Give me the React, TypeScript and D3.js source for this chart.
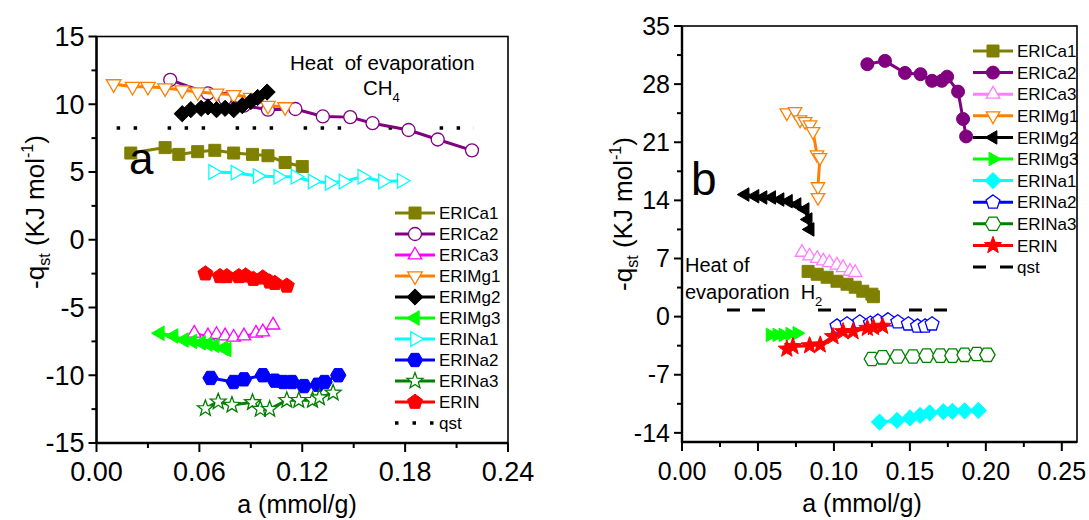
import React from "react";
import * as d3 from "d3";

// ---------------- Data: panel a (CH4) ----------------
const seriesNames = ["ERICa1", "ERICa2", "ERICa3", "ERIMg1", "ERIMg2", "ERIMg3", "ERINa1", "ERINa2", "ERINa3", "ERIN"];

const aCa1_A = [0.020, 0.040, 0.048, 0.059, 0.069, 0.080, 0.091, 0.100, 0.110, 0.120];
const qCa1_A = [6.4, 6.8, 6.3, 6.5, 6.6, 6.4, 6.3, 6.2, 5.7, 5.4];
const aCa2_A = [0.043, 0.065, 0.075, 0.086, 0.100, 0.116, 0.132, 0.148, 0.161, 0.182, 0.199, 0.219];
const qCa2_A = [11.8, 10.8, 10.4, 9.9, 9.6, 9.65, 9.1, 9.05, 8.6, 8.1, 7.4, 6.6];
const aCa3_A = [0.057, 0.065, 0.070, 0.075, 0.080, 0.086, 0.093, 0.097, 0.103];
const qCa3_A = [-6.9, -7.1, -7.0, -7.1, -7.2, -7.1, -6.9, -6.8, -6.3];
const aMg1_A = [0.010, 0.021, 0.030, 0.040, 0.050, 0.059, 0.070, 0.080, 0.090, 0.100, 0.110];
const qMg1_A = [11.5, 11.3, 11.3, 11.2, 11.05, 10.9, 10.8, 10.7, 10.5, 9.9, 9.8];
const aMg2_A = [0.050, 0.055, 0.061, 0.065, 0.070, 0.075, 0.080, 0.085, 0.090, 0.094, 0.0995];
const qMg2_A = [9.3, 9.6, 9.7, 9.8, 9.6, 9.7, 9.6, 9.9, 10.2, 10.5, 10.9];
const aMg3_A = [0.037, 0.045, 0.051, 0.056, 0.061, 0.065, 0.069, 0.074, 0.076];
const qMg3_A = [-6.9, -7.1, -7.4, -7.5, -7.6, -7.7, -7.8, -8.0, -8.1];
const aNa1_A = [0.068, 0.081, 0.094, 0.106, 0.116, 0.126, 0.136, 0.144, 0.155, 0.167, 0.178];
const qNa1_A = [5.0, 4.95, 4.7, 4.65, 4.65, 4.3, 4.2, 4.3, 4.65, 4.3, 4.35];
const aNa2_A = [0.0665, 0.080, 0.086, 0.097, 0.104, 0.109, 0.114, 0.121, 0.129, 0.133, 0.141];
const qNa2_A = [-10.2, -10.5, -10.3, -10.0, -10.4, -10.5, -10.5, -10.8, -10.7, -10.5, -10.0];
const aNa3_A = [0.0635, 0.071, 0.079, 0.091, 0.0955, 0.101, 0.111, 0.118, 0.126, 0.130, 0.138];
const qNa3_A = [-12.45, -11.95, -12.2, -12.0, -12.5, -12.5, -11.85, -11.85, -11.85, -11.65, -11.3];
const aN_A = [0.0635, 0.072, 0.076, 0.083, 0.087, 0.0915, 0.097, 0.101, 0.104, 0.111];
const qN_A = [-2.5, -2.7, -2.7, -2.7, -2.65, -2.9, -2.8, -3.1, -3.2, -3.4];
const qstA_value = 8.25;
const qstA_range = [0.0094, 0.22];

// ---------------- Data: panel b (H2) ----------------
const aCa1_B = [0.083, 0.089, 0.0955, 0.102, 0.1086, 0.114, 0.119, 0.125, 0.126];
const qCa1_B = [5.45, 5.1, 4.74, 4.26, 3.9, 3.54, 3.06, 2.7, 2.4];
const aCa2_B = [0.122, 0.1336, 0.1468, 0.157, 0.1646, 0.171, 0.1745, 0.1817, 0.185, 0.187];
const qCa2_B = [30.4, 30.8, 29.35, 29.2, 28.4, 28.4, 28.9, 27.1, 23.8, 21.7];
const aCa3_B = [0.079, 0.084, 0.089, 0.093, 0.097, 0.102, 0.106, 0.1106, 0.114];
const qCa3_B = [7.74, 7.3, 7.0, 6.7, 6.5, 6.2, 5.9, 5.45, 5.3];
const aMg1_B = [0.069, 0.0744, 0.0777, 0.081, 0.0843, 0.0862, 0.0889, 0.0908, 0.0895, 0.0895];
const qMg1_B = [24.55, 24.7, 23.7, 23.5, 23.1, 22.3, 19.5, 19.15, 15.65, 14.35];
const aMg2_B = [0.0415, 0.048, 0.0533, 0.059, 0.0645, 0.070, 0.0757, 0.081, 0.083, 0.0843];
const qMg2_B = [14.7, 14.5, 14.35, 14.35, 14.1, 13.9, 13.5, 12.9, 11.7, 10.5];
const aMg3_B = [0.058, 0.0625, 0.0665, 0.071, 0.0757];
const qMg3_B = [-2.2, -2.2, -2.2, -2.1, -2.0];
const aNa1_B = [0.130, 0.1415, 0.150, 0.1567, 0.163, 0.172, 0.178, 0.186, 0.195];
const qNa1_B = [-12.7, -12.5, -12.2, -11.9, -11.6, -11.45, -11.4, -11.35, -11.3];
const aNa2_B = [0.102, 0.1086, 0.117, 0.124, 0.129, 0.1356, 0.142, 0.149, 0.155, 0.160, 0.1646];
const qNa2_B = [-1.15, -0.9, -0.65, -0.8, -0.55, -0.4, -0.65, -0.9, -1.15, -1.15, -0.9];
const aNa3_B = [0.125, 0.132, 0.142, 0.152, 0.161, 0.170, 0.178, 0.186, 0.194, 0.201];
const qNa3_B = [-5.1, -4.9, -4.8, -4.8, -4.7, -4.7, -4.7, -4.6, -4.5, -4.6];
const aN_B = [0.069, 0.073, 0.084, 0.091, 0.0994, 0.106, 0.1126, 0.122, 0.126, 0.132];
const qN_B = [-3.9, -3.6, -3.5, -3.4, -2.4, -1.8, -1.8, -1.4, -1.3, -1.15];
const qstB_value = 0.8;
const qstB_range = [0.0296, 0.175];

// ticks
const xTicksA = [0, 0.06, 0.12, 0.18, 0.24];
const yTicksA = [-15, -10, -5, 0, 5, 10, 15];
const xTicksB = [0, 0.05, 0.1, 0.15, 0.2, 0.25];
const yTicksB = [-14, -7, 0, 7, 14, 21, 28, 35];

const FONT = "'Liberation Sans', Arial, Helvetica, sans-serif";

type Shape = "square" | "circle" | "triUp" | "triDown" | "triLeft" | "triRight" | "diamond" | "pentagon" | "hexagon" | "star";

function polygon(n: number, r: number, rotDeg: number): string {
  const pts: string[] = [];
  for (let k = 0; k < n; k++) {
    const ang = ((rotDeg + (k * 360) / n) * Math.PI) / 180;
    pts.push(`${(r * Math.cos(ang)).toFixed(2)},${(r * Math.sin(ang)).toFixed(2)}`);
  }
  return "M" + pts.join("L") + "Z";
}

function markerPath(shape: Shape, s: number): string {
  switch (shape) {
    case "square":
      return `M${-s / 2},${-s / 2}h${s}v${s}h${-s}Z`;
    case "circle": {
      const r = s / 2;
      return `M${-r},0a${r},${r} 0 1,0 ${2 * r},0a${r},${r} 0 1,0 ${-2 * r},0Z`;
    }
    case "triUp":
      return polygon(3, s * 0.6, -90);
    case "triDown":
      return polygon(3, s * 0.6, 90);
    case "triLeft":
      return polygon(3, s * 0.6, 180);
    case "triRight":
      return polygon(3, s * 0.6, 0);
    case "diamond":
      return polygon(4, s * 0.58, -90);
    case "pentagon":
      return polygon(5, s * 0.56, -90);
    case "hexagon":
      return polygon(6, s * 0.55, 0);
    case "star": {
      const pts: string[] = [];
      const R = s * 0.6;
      const r = R * 0.42;
      for (let k = 0; k < 10; k++) {
        const rr = k % 2 === 0 ? R : r;
        const ang = ((-90 + k * 36) * Math.PI) / 180;
        pts.push(`${(rr * Math.cos(ang)).toFixed(2)},${(rr * Math.sin(ang)).toFixed(2)}`);
      }
      return "M" + pts.join("L") + "Z";
    }
  }
  return "";
}

type Style = { color: string; shape: Shape; open: boolean; size: number; lw: number };

const stylesA: Style[] = [
  { color: "#808000", shape: "square", open: false, size: 12, lw: 3 },
  { color: "#800080", shape: "circle", open: true, size: 13, lw: 3 },
  { color: "#ff00ff", shape: "triUp", open: true, size: 13, lw: 2 },
  { color: "#ff8000", shape: "triDown", open: true, size: 14, lw: 3 },
  { color: "#000000", shape: "diamond", open: false, size: 14, lw: 3 },
  { color: "#00ff00", shape: "triLeft", open: false, size: 14, lw: 3 },
  { color: "#00ffff", shape: "triRight", open: true, size: 14, lw: 3 },
  { color: "#0000ff", shape: "hexagon", open: false, size: 14, lw: 3 },
  { color: "#008000", shape: "star", open: true, size: 14, lw: 3 },
  { color: "#ff0000", shape: "pentagon", open: false, size: 14, lw: 3 },
];

const stylesB: Style[] = [
  { color: "#808000", shape: "square", open: false, size: 12, lw: 3 },
  { color: "#800080", shape: "circle", open: false, size: 13, lw: 3 },
  { color: "#ff80ff", shape: "triUp", open: true, size: 13, lw: 3 },
  { color: "#ff8000", shape: "triDown", open: true, size: 13, lw: 3 },
  { color: "#000000", shape: "triLeft", open: false, size: 13, lw: 3 },
  { color: "#00ff00", shape: "triRight", open: false, size: 13, lw: 3 },
  { color: "#00ffff", shape: "diamond", open: false, size: 14, lw: 3 },
  { color: "#0000ff", shape: "pentagon", open: true, size: 13, lw: 3 },
  { color: "#008000", shape: "hexagon", open: true, size: 14, lw: 3 },
  { color: "#ff0000", shape: "star", open: false, size: 15, lw: 3 },
];

const dataA: [number[], number[]][] = [
  [aCa1_A, qCa1_A], [aCa2_A, qCa2_A], [aCa3_A, qCa3_A], [aMg1_A, qMg1_A], [aMg2_A, qMg2_A],
  [aMg3_A, qMg3_A], [aNa1_A, qNa1_A], [aNa2_A, qNa2_A], [aNa3_A, qNa3_A], [aN_A, qN_A],
];
const dataB: [number[], number[]][] = [
  [aCa1_B, qCa1_B], [aCa2_B, qCa2_B], [aCa3_B, qCa3_B], [aMg1_B, qMg1_B], [aMg2_B, qMg2_B],
  [aMg3_B, qMg3_B], [aNa1_B, qNa1_B], [aNa2_B, qNa2_B], [aNa3_B, qNa3_B], [aN_B, qN_B],
];

function Marker({ x, y, st }: { x: number; y: number; st: Style }) {
  return (
    <path
      d={markerPath(st.shape, st.size)}
      transform={`translate(${x},${y})`}
      fill={st.open ? "#ffffff" : st.color}
      stroke={st.color}
      strokeWidth={st.open ? 1.3 : 1}
      strokeLinejoin="miter"
    />
  );
}

type PanelProps = {
  x: d3.ScaleLinear<number, number>;
  y: d3.ScaleLinear<number, number>;
  xTicks: number[];
  xMinor: number[];
  yTicks: number[];
  yMinor: number[];
  tickFont: number;
  data: [number[], number[]][];
  styles: Style[];
  legendX: number;
  legendY: number;
  legendStep: number;
  qstValue: number;
  qstRange: number[];
  qstDash: string;
  qstDashOffset: number;
  qstLegendDash: string;
  qstWidth: number;
  xTitleX: number;
  yTitleX: number;
  yTitleY: number;
};

function Panel(p: PanelProps) {
  const [x0, x1] = p.x.range();
  const [y0, y1] = p.y.range(); // y0 bottom, y1 top
  const line = d3
    .line<[number, number]>()
    .x((d) => p.x(d[0]))
    .y((d) => p.y(d[1]));
  return (
    <g>
      {/* frame */}
      <rect x={x0} y={y1} width={x1 - x0} height={y0 - y1} fill="none" stroke="#000" strokeWidth={1.6} />
      <line x1={x0} x2={x0} y1={y1} y2={y0 + 1} stroke="#000" strokeWidth={2.4} />
      <line x1={x0 - 1} x2={x1} y1={y0} y2={y0} stroke="#000" strokeWidth={2.4} />
      {/* y ticks */}
      {p.yTicks.map((t) => (
        <g key={"yt" + t}>
          <line x1={x0 - 8} x2={x0} y1={p.y(t)} y2={p.y(t)} stroke="#000" strokeWidth={2} />
          <text x={x0 - 12} y={p.y(t)} dy="0.35em" textAnchor="end" fontSize={p.tickFont} fontFamily={FONT}>
            {t}
          </text>
        </g>
      ))}
      {p.yMinor.map((t) => (
        <line key={"ym" + t} x1={x0 - 5} x2={x0} y1={p.y(t)} y2={p.y(t)} stroke="#000" strokeWidth={2} />
      ))}
      {/* x ticks */}
      {p.xTicks.map((t) => (
        <g key={"xt" + t}>
          <line x1={p.x(t)} x2={p.x(t)} y1={y0} y2={y0 + 9} stroke="#000" strokeWidth={2} />
          <text x={p.x(t)} y={y0 + 29} dy="0.35em" textAnchor="middle" fontSize={p.tickFont} fontFamily={FONT}>
            {d3.format(".2f")(t)}
          </text>
        </g>
      ))}
      {p.xMinor.map((t) => (
        <line key={"xm" + t} x1={p.x(t)} x2={p.x(t)} y1={y0} y2={y0 + 5} stroke="#000" strokeWidth={2} />
      ))}
      {/* axis titles */}
      <text x={p.xTitleX} y={y0 + 61} dy="0.35em" textAnchor="middle" fontSize={25} fontFamily={FONT}>
        a (mmol/g)
      </text>
      <text
        transform={`translate(${p.yTitleX},${p.yTitleY}) rotate(-90)`}
        textAnchor="middle"
        fontSize={26}
        fontFamily={FONT}
      >
        -q
        <tspan fontSize={16} dy={6}>st</tspan>
        <tspan dy={-6}> (KJ mol</tspan>
        <tspan fontSize={16} dy={-11}>-1</tspan>
        <tspan dy={11}>)</tspan>
      </text>
      {/* qst line */}
      <line
        x1={p.x(p.qstRange[0])}
        x2={p.x(p.qstRange[1])}
        y1={p.y(p.qstValue)}
        y2={p.y(p.qstValue)}
        stroke="#000"
        strokeWidth={p.qstWidth}
        strokeDasharray={p.qstDash}
        strokeDashoffset={p.qstDashOffset}
      />
      {/* series */}
      {p.data.map(([as, qs], i) => {
        const st = p.styles[i];
        const pts = as.map((a, k) => [a, qs[k]] as [number, number]);
        return (
          <g key={"s" + i}>
            <path d={line(pts) || ""} fill="none" stroke={st.color} strokeWidth={st.lw} />
            {pts.map((d, k) => (
              <Marker key={k} x={p.x(d[0])} y={p.y(d[1])} st={st} />
            ))}
          </g>
        );
      })}
      {/* legend */}
      {seriesNames.map((name, i) => {
        const st = p.styles[i];
        const ly = p.legendY + i * p.legendStep;
        return (
          <g key={"lg" + i}>
            <line x1={p.legendX} x2={p.legendX + 40} y1={ly} y2={ly} stroke={st.color} strokeWidth={3} />
            <Marker x={p.legendX + 20} y={ly} st={st} />
            <text x={p.legendX + 44} y={ly} dy="0.36em" fontSize={17} fontFamily={FONT}>
              {name}
            </text>
          </g>
        );
      })}
      <g>
        <line
          x1={p.legendX}
          x2={p.legendX + 40}
          y1={p.legendY + 10 * p.legendStep}
          y2={p.legendY + 10 * p.legendStep}
          stroke="#000"
          strokeWidth={p.qstWidth}
          strokeDasharray={p.qstLegendDash}
        />
        <text x={p.legendX + 44} y={p.legendY + 10 * p.legendStep} dy="0.36em" fontSize={17} fontFamily={FONT}>
          qst
        </text>
      </g>
    </g>
  );
}

export default function App() {
  const xA = d3.scaleLinear().domain([0, 0.24]).range([96.5, 508]);
  const yA = d3.scaleLinear().domain([-15, 15]).range([443, 36.5]);
  const xB = d3.scaleLinear().domain([0, 0.26]).range([682, 1077]);
  const yB = d3.scaleLinear().domain([-15.1, 35]).range([442, 26]);

  const xMinorA = d3.range(0.03, 0.24, 0.06);
  const yMinorA = d3.range(-12.5, 15, 5);
  const xMinorB = d3.range(0.025, 0.26, 0.05);
  const yMinorB = d3.range(-10.5, 35, 7);

  return (
    <svg width={1089} height={520} style={{ position: "absolute", left: 0, top: 0, background: "#fff" }}>
      <rect width={1089} height={520} fill="#fff" />
      <Panel
        x={xA}
        y={yA}
        xTicks={xTicksA}
        xMinor={xMinorA}
        yTicks={yTicksA}
        yMinor={yMinorA}
        tickFont={27}
        data={dataA}
        styles={stylesA}
        legendX={395}
        legendY={213}
        legendStep={21}
        qstValue={qstA_value}
        qstRange={qstA_range}
        qstDash="3.5,13.5,3.5,13.5,3.5,30.5"
        qstDashOffset={13}
        qstLegendDash="3.5,14"
        qstWidth={3.5}
        xTitleX={297}
        yTitleX={44}
        yTitleY={212}
      />
      <Panel
        x={xB}
        y={yB}
        xTicks={xTicksB}
        xMinor={xMinorB}
        yTicks={yTicksB}
        yMinor={yMinorB}
        tickFont={25}
        data={dataB}
        styles={stylesB}
        legendX={973}
        legendY={51}
        legendStep={21.6}
        qstValue={qstB_value}
        qstRange={qstB_range}
        qstDash="13,12,13,53"
        qstDashOffset={0}
        qstLegendDash="13,14"
        qstWidth={3}
        xTitleX={862}
        yTitleX={632}
        yTitleY={214}
      />
      {/* annotations */}
      <text x={290} y={70} fontSize={20.5} fontFamily={FONT} style={{ whiteSpace: "pre" }}>
        {"Heat  of evaporation"}
      </text>
      <text x={363} y={95} fontSize={20.5} fontFamily={FONT}>
        CH<tspan fontSize={13} dy={7}>4</tspan>
      </text>
      <text x={129} y={174} fontSize={44} fontFamily={FONT}>
        a
      </text>
      <text x={685} y={272} fontSize={20} fontFamily={FONT}>
        Heat of
      </text>
      <text x={685} y={299} fontSize={20} fontFamily={FONT} style={{ whiteSpace: "pre" }}>
        {"evaporation  H"}
        <tspan fontSize={13} dy={7}>2</tspan>
      </text>
      <text x={691} y={195} fontSize={46} fontFamily={FONT}>
        b
      </text>
    </svg>
  );
}
